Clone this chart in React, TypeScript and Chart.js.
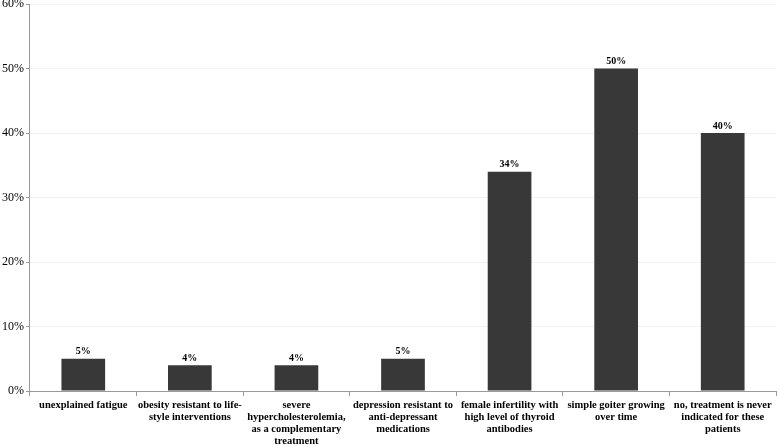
import React, { useEffect, useRef } from "react";
import { Chart, registerables } from "chart.js";

Chart.register(...registerables);

const categories: string[][] = [
  ["unexplained fatigue"],
  ["obesity resistant to life-", "style interventions"],
  ["severe", "hypercholesterolemia,", "as a complementary", "treatment"],
  ["depression resistant to", "anti-depressant", "medications"],
  ["female infertility with", "high level of thyroid", "antibodies"],
  ["simple goiter growing", "over time"],
  ["no, treatment is never", "indicated for these", "patients"],
];
const values: number[] = [5, 4, 4, 5, 34, 50, 40];
const yTicks: number[] = [0, 10, 20, 30, 40, 50, 60];

const FONT = "'Liberation Serif', 'Times New Roman', serif";

const labelPlugin = {
  id: "barLabels",
  afterDatasetsDraw(chart: any) {
    const ctx = chart.ctx;
    const meta = chart.getDatasetMeta(0);
    ctx.save();
    ctx.font = `bold 10px ${FONT}`;
    ctx.fillStyle = "#000";
    ctx.textAlign = "center";
    ctx.textBaseline = "bottom";
    meta.data.forEach((bar: any, i: number) => {
      ctx.fillText(values[i] + "%", bar.x, bar.y - 2);
    });
    ctx.restore();
  },
};

export default function App() {
  const ref = useRef<HTMLCanvasElement>(null);
  useEffect(() => {
    if (!ref.current) return;
    const chart = new Chart(ref.current, {
      type: "bar",
      data: {
        labels: categories,
        datasets: [
          {
            data: values,
            backgroundColor: "#383838",
            borderWidth: 0,
            barPercentage: 0.41,
            categoryPercentage: 1,
          },
        ],
      },
      options: {
        animation: false,
        responsive: false,
        layout: { padding: { top: 4, right: 1, left: 0, bottom: 0 } },
        plugins: { legend: { display: false }, tooltip: { enabled: false } },
        scales: {
          x: {
            afterFit: (scale: any) => {
              scale.height = 55;
              scale.paddingLeft = 0;
              scale.paddingRight = 0;
            },
            grid: {
              display: true,
              drawOnChartArea: false,
              tickLength: 5,
              color: "#999",
            },
            border: { color: "#999", width: 1 },
            ticks: {
              color: "#000",
              maxRotation: 0,
              autoSkip: false,
              padding: 3,
              font: { family: FONT, size: 10.5, weight: "bold", lineHeight: "12px" },
            },
          },
          y: {
            min: 0,
            max: 60,
            afterFit: (scale: any) => {
              scale.paddingTop = 0;
              scale.paddingBottom = 0;
            },
            afterBuildTicks: (axis: any) => {
              axis.ticks = yTicks.map((v) => ({ value: v }));
            },
            grid: { color: "#f2f2f2", tickLength: 4, tickColor: "#999" },
            border: { color: "#999", width: 1 },
            ticks: {
              color: "#000",
              padding: 2,
              font: { family: FONT, size: 12 },
              callback: (v: any) => v + "%",
            },
          },
        },
      },
      plugins: [labelPlugin],
    });
    return () => chart.destroy();
  }, []);
  return (
    <div style={{ position: "fixed", left: 0, top: 0, width: 777, height: 446, background: "#fff" }}>
      <canvas ref={ref} width={777} height={446} />
    </div>
  );
}
